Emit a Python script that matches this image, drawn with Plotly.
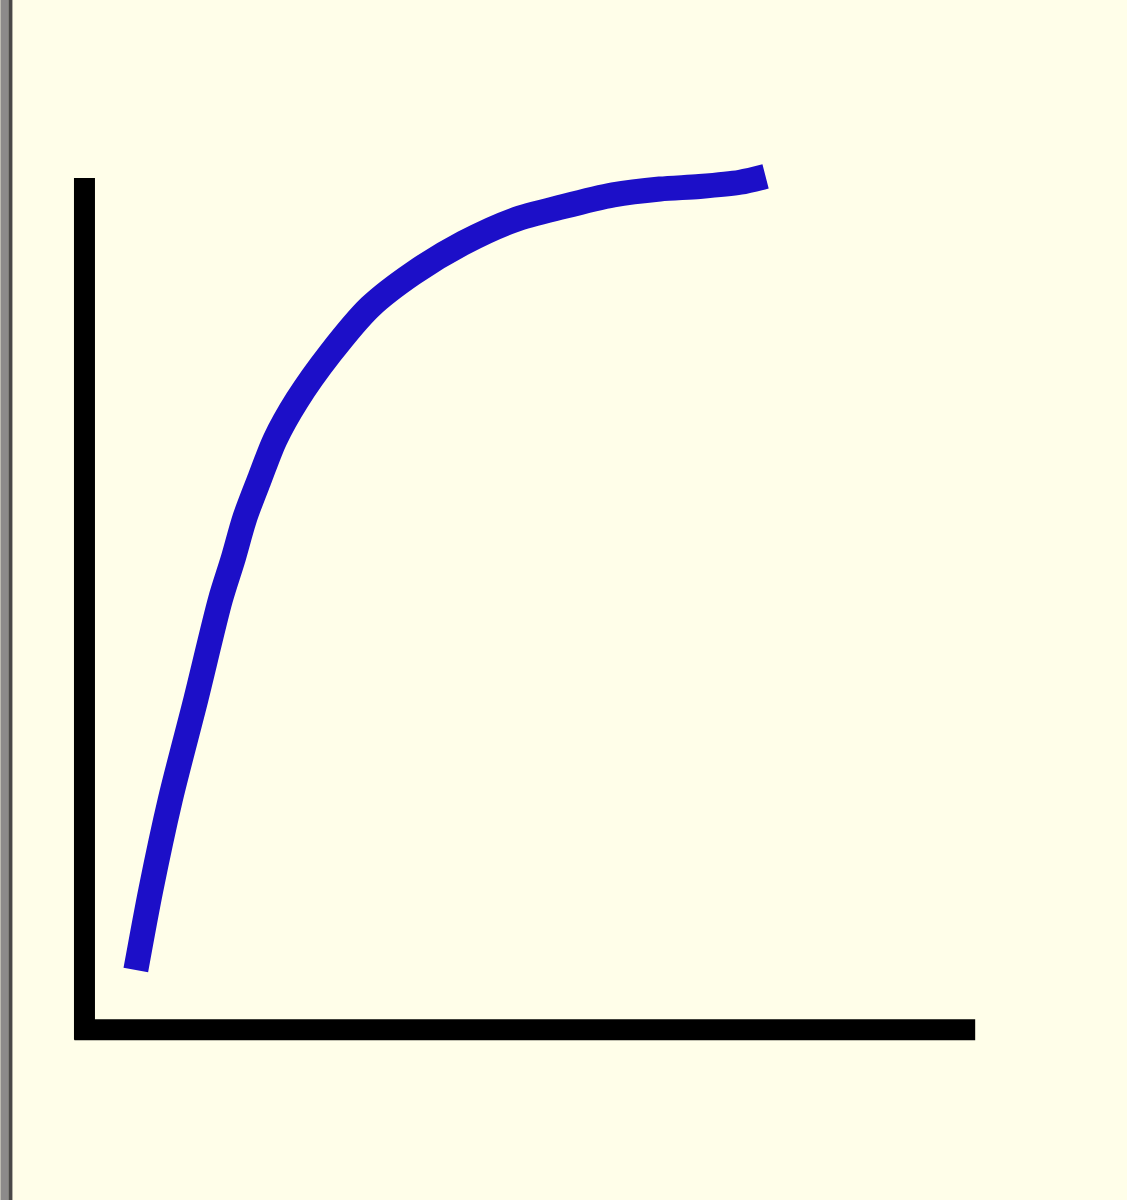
import plotly.graph_objects as go

# curve (arbitrary units, axes run 0..10)
x_vals = [0.47, 0.64, 0.86, 1.15, 1.43, 1.57, 1.71, 1.88, 2.05, 2.30, 2.68, 3.13, 3.62, 4.19, 4.76, 5.32, 5.89, 6.42, 6.87, 7.33, 7.62]
y_vals = [0.59, 1.54, 2.61, 3.80, 4.99, 5.46, 5.97, 6.44, 6.89, 7.36, 7.92, 8.47, 8.87, 9.23, 9.50, 9.66, 9.80, 9.87, 9.90, 9.95, 10.02]

bg = '#FFFEE9'
W, H = 1127, 1200
x_rng = [-0.3, 10.1]
y_rng = [-0.3, 10.5]
margin = dict(l=67.6, r=143.2, t=135.9, b=154.7)
plot_w = W - margin['l'] - margin['r']

fig = go.Figure()
fig.add_trace(go.Scatter(
    x=x_vals, y=y_vals,
    mode='lines',
    line=dict(color='#1C0FC8', width=25, shape='spline', smoothing=0.8),
    showlegend=False, hoverinfo='skip'))

axis_style = dict(showline=False, showgrid=False, zeroline=False,
                  showticklabels=False, ticks='', fixedrange=True)
fig.update_xaxes(range=x_rng, **axis_style)
fig.update_yaxes(range=y_rng, **axis_style)

# thick hand-drawn style L-shaped axes
fig.add_shape(type='line', xref='x', yref='y', x0=-0.113, x1=-0.113, y0=-0.238, y1=10.0,
              line=dict(color='black', width=21), layer='below')
fig.add_shape(type='line', xref='x', yref='y', x0=-0.227, x1=10.0, y0=-0.119, y1=-0.119,
              line=dict(color='black', width=21), layer='below')

# grey window border on the left edge
fig.add_shape(type='rect', xref='paper', yref='paper',
              x0=-margin['l'] / plot_w, x1=(8 - margin['l']) / plot_w, y0=-1, y1=2,
              fillcolor='#8C8A8A', line_width=0, layer='above')
fig.add_shape(type='rect', xref='paper', yref='paper',
              x0=(8 - margin['l']) / plot_w, x1=(12 - margin['l']) / plot_w, y0=-1, y1=2,
              fillcolor='#4A4848', line_width=0, layer='above')

fig.update_layout(width=W, height=H, margin=margin,
                  paper_bgcolor=bg, plot_bgcolor=bg)

# drop the page's default body margin so the figure sits flush in the window
fig.write_html("out.html",
               config={'displayModeBar': False},
               post_script="document.body.style.margin='0';"
                           "document.body.style.background='%s';" % bg)
